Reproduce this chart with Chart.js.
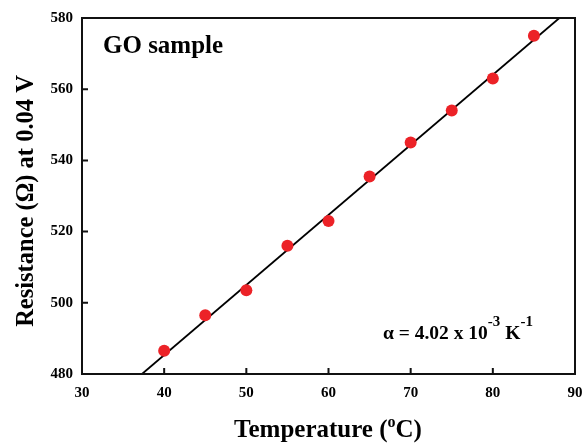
<!DOCTYPE html>
<html>
<head>
<meta charset="utf-8">
<script src="https://cdn.jsdelivr.net/npm/chart.js@4"></script>
<style>
  html, body { margin: 0; padding: 0; background: #fff; }
  #wrap { width: 582px; height: 444px; }
</style>
</head>
<body>
<div id="wrap"><canvas id="chart" width="582" height="444"></canvas></div>
<script>
// measured data
const temps = [40, 45, 50, 55, 60, 65, 70, 75, 80, 85];
const resistance = [486.5, 496.5, 503.5, 516, 523, 535.5, 545, 554, 563, 575];
// linear fit end points
const fitX = [37.3, 88.1];
const fitY = [480, 580];
const xTicks = [30, 40, 50, 60, 70, 80, 90];
const yTicks = [480, 500, 520, 540, 560, 580];

const SERIF = '"Liberation Serif", "Times New Roman", serif';

// frame, inward ticks and text labels
const decor = {
    id: 'decor',
    afterDraw(chart) {
        const { ctx, chartArea: a, scales } = chart;
        const x = scales.x, y = scales.y;
        ctx.save();
        ctx.strokeStyle = '#111';
        ctx.lineWidth = 2;
        ctx.strokeRect(a.left, a.top, a.right - a.left, a.bottom - a.top);

        ctx.lineWidth = 2;
        ctx.beginPath();
        xTicks.forEach(v => {
            const px = x.getPixelForValue(v);
            ctx.moveTo(px, a.bottom);
            ctx.lineTo(px, a.bottom - 6);
        });
        yTicks.forEach(v => {
            const py = y.getPixelForValue(v);
            ctx.moveTo(a.left, py);
            ctx.lineTo(a.left + 6, py);
        });
        ctx.stroke();

        ctx.fillStyle = '#000';
        ctx.textBaseline = 'alphabetic';

        // sample label
        ctx.font = 'bold 25px ' + SERIF;
        ctx.textAlign = 'left';
        ctx.fillText('GO sample', 103, 53);

        // coefficient label
        let cx = 383;
        const base = 339;
        const part = (txt, size, dy) => {
            ctx.font = 'bold ' + size + 'px ' + SERIF;
            ctx.fillText(txt, cx, base + dy);
            cx += ctx.measureText(txt).width;
        };
        part('\u03B1 = 4.02 x 10', 19.5, 0);
        part('-3', 15, -13);
        part(' K', 19.5, 0);
        part('-1', 15, -13);

        // x title with superscript o
        const t1 = 'Temperature (', t3 = 'C)';
        ctx.font = 'bold 25px ' + SERIF;
        const w1 = ctx.measureText(t1).width;
        const w3 = ctx.measureText(t3).width;
        ctx.font = 'bold 16px ' + SERIF;
        const w2 = ctx.measureText('o').width;
        let tx = 328 - (w1 + w2 + w3) / 2;
        ctx.font = 'bold 25px ' + SERIF;
        ctx.fillText(t1, tx, 437);
        tx += w1;
        ctx.font = 'bold 16px ' + SERIF;
        ctx.fillText('o', tx, 427);
        tx += w2;
        ctx.font = 'bold 25px ' + SERIF;
        ctx.fillText(t3, tx, 437);

        // y title
        ctx.translate(33, 201);
        ctx.rotate(-Math.PI / 2);
        ctx.textAlign = 'center';
        ctx.font = 'bold 24.5px ' + SERIF;
        ctx.fillText('Resistance (\u03A9) at 0.04 V', 0, 0);
        ctx.restore();
    }
};

new Chart(document.getElementById('chart'), {
    type: 'scatter',
    data: {
        datasets: [
            {
                label: 'fit',
                data: fitX.map((v, i) => ({ x: v, y: fitY[i] })),
                showLine: true,
                borderColor: '#000',
                borderWidth: 1.8,
                pointRadius: 0,
                order: 2
            },
            {
                label: 'GO sample',
                data: temps.map((v, i) => ({ x: v, y: resistance[i] })),
                backgroundColor: '#ec2227',
                borderColor: '#ec2227',
                pointRadius: 6,
                pointBorderWidth: 0,
                order: 1
            }
        ]
    },
    options: {
        responsive: false,
        animation: false,
        layout: { padding: { left: 0, right: 7, top: 18, bottom: 0 } },
        plugins: { legend: { display: false }, tooltip: { enabled: false } },
        scales: {
            x: {
                type: 'linear',
                min: 30, max: 90,
                grid: { display: false, drawTicks: false },
                border: { display: false },
                afterBuildTicks(s) { s.ticks = xTicks.map(v => ({ value: v })); },
                afterFit(s) { s.height = 70; s.paddingLeft = 0; s.paddingRight = 0; },
                ticks: { color: '#000', padding: 10, font: { family: SERIF, size: 15, weight: 'bold' } }
            },
            y: {
                type: 'linear',
                min: 480, max: 580,
                grid: { display: false, drawTicks: false },
                border: { display: false },
                afterBuildTicks(s) { s.ticks = yTicks.map(v => ({ value: v })); },
                afterFit(s) { s.width = 82; s.paddingTop = 0; s.paddingBottom = 0; },
                ticks: { color: '#000', padding: 9, font: { family: SERIF, size: 15, weight: 'bold' } }
            }
        }
    },
    plugins: [decor]
});
</script>
</body>
</html>
